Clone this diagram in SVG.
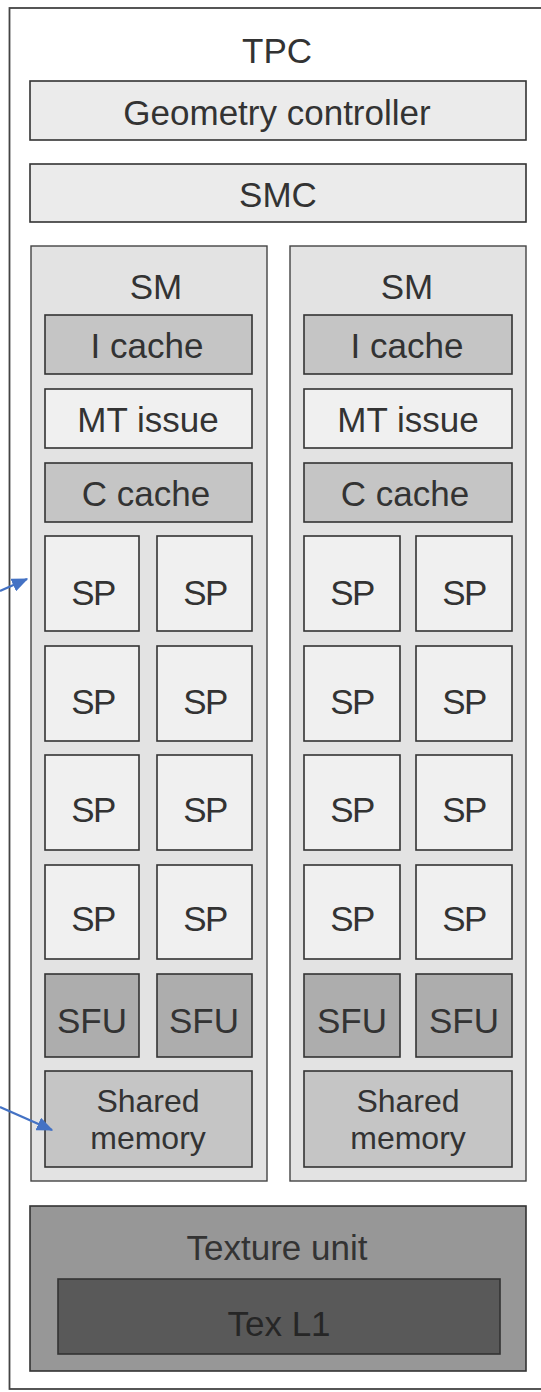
<svg xmlns="http://www.w3.org/2000/svg" width="541" height="1392" viewBox="0 0 541 1392">
<defs>
<style>
.b{stroke:#333;stroke-width:1.6}
.t{font-family:"Liberation Sans",Arial,Helvetica,sans-serif;font-size:35px;fill:#333;text-anchor:middle}
.sh{font-size:32px}
.sp{letter-spacing:-1.5px}
.lt{fill:#f0f0f0}
.mid{fill:#c5c5c5}
.sfu{fill:#adadad}
.sm{fill:#e3e3e3;stroke:#444;stroke-width:1.4}
</style>
<marker id="ah" viewBox="0 0 12 10" refX="11" refY="5" markerWidth="7.5" markerHeight="6.2" orient="auto" markerUnits="strokeWidth">
<path d="M0,0 L12,5 L0,10 z" fill="#4472c4"/>
</marker>
</defs>
<rect width="541" height="1392" fill="#fff"/>
<g id="tpc">
<rect x="9.5" y="8" width="560" height="1381" fill="#fff" stroke="#444" stroke-width="1.8"/>
<text class="t" x="277" y="63">TPC</text>
</g>
<g id="geometry-controller">
<rect class="b" x="30" y="81" width="496" height="59" fill="#ebebeb"/>
<text class="t" x="277" y="125">Geometry controller</text>
</g>
<g id="smc">
<rect class="b" x="30" y="164" width="496" height="58" fill="#ebebeb"/>
<text class="t" x="278" y="207">SMC</text>
</g>

<g id="sm-left">
<rect class="sm" x="31" y="246" width="236" height="935"/>
<text class="t" x="156" y="299">SM</text>
</g>
<g id="icache-left"><rect class="b mid" x="45" y="315" width="207" height="59"/><text class="t" x="147" y="358">I cache</text></g>
<g id="mtissue-left"><rect class="b lt" x="45" y="389" width="207" height="59"/><text class="t" x="148" y="432">MT issue</text></g>
<g id="ccache-left"><rect class="b mid" x="45" y="463" width="207" height="59"/><text class="t" x="146" y="506">C cache</text></g>
<g id="sp-l-1a"><rect class="b lt" x="45" y="536" width="94" height="95"/><text class="t sp" x="93" y="605">SP</text></g>
<g id="sp-l-1b"><rect class="b lt" x="157" y="536" width="95" height="95"/><text class="t sp" x="205" y="605">SP</text></g>
<g id="sp-l-2a"><rect class="b lt" x="45" y="646" width="94" height="95"/><text class="t sp" x="93" y="714">SP</text></g>
<g id="sp-l-2b"><rect class="b lt" x="157" y="646" width="95" height="95"/><text class="t sp" x="205" y="714">SP</text></g>
<g id="sp-l-3a"><rect class="b lt" x="45" y="755" width="94" height="95"/><text class="t sp" x="93" y="822">SP</text></g>
<g id="sp-l-3b"><rect class="b lt" x="157" y="755" width="95" height="95"/><text class="t sp" x="205" y="822">SP</text></g>
<g id="sp-l-4a"><rect class="b lt" x="45" y="865" width="94" height="94"/><text class="t sp" x="93" y="931">SP</text></g>
<g id="sp-l-4b"><rect class="b lt" x="157" y="865" width="95" height="94"/><text class="t sp" x="205" y="931">SP</text></g>
<g id="sfu-l-a"><rect class="b sfu" x="45" y="974" width="94" height="83"/><text class="t" x="92" y="1033">SFU</text></g>
<g id="sfu-l-b"><rect class="b sfu" x="157" y="974" width="95" height="83"/><text class="t" x="204" y="1033">SFU</text></g>
<g id="shmem-left"><rect class="b mid" x="45" y="1071" width="207" height="96"/><text class="t sh" x="148" y="1112">Shared</text><text class="t sh" x="148" y="1149">memory</text></g>

<g id="sm-right">
<rect class="sm" x="290" y="246" width="236" height="935"/>
<text class="t" x="407" y="299">SM</text>
</g>
<g id="icache-right"><rect class="b mid" x="304" y="315" width="208" height="59"/><text class="t" x="407" y="358">I cache</text></g>
<g id="mtissue-right"><rect class="b lt" x="304" y="389" width="208" height="59"/><text class="t" x="408" y="432">MT issue</text></g>
<g id="ccache-right"><rect class="b mid" x="304" y="463" width="208" height="59"/><text class="t" x="405" y="506">C cache</text></g>
<g id="sp-r-1a"><rect class="b lt" x="304" y="536" width="96" height="95"/><text class="t sp" x="352" y="605">SP</text></g>
<g id="sp-r-1b"><rect class="b lt" x="416" y="536" width="96" height="95"/><text class="t sp" x="464" y="605">SP</text></g>
<g id="sp-r-2a"><rect class="b lt" x="304" y="646" width="96" height="95"/><text class="t sp" x="352" y="714">SP</text></g>
<g id="sp-r-2b"><rect class="b lt" x="416" y="646" width="96" height="95"/><text class="t sp" x="464" y="714">SP</text></g>
<g id="sp-r-3a"><rect class="b lt" x="304" y="755" width="96" height="95"/><text class="t sp" x="352" y="822">SP</text></g>
<g id="sp-r-3b"><rect class="b lt" x="416" y="755" width="96" height="95"/><text class="t sp" x="464" y="822">SP</text></g>
<g id="sp-r-4a"><rect class="b lt" x="304" y="865" width="96" height="94"/><text class="t sp" x="352" y="931">SP</text></g>
<g id="sp-r-4b"><rect class="b lt" x="416" y="865" width="96" height="94"/><text class="t sp" x="464" y="931">SP</text></g>
<g id="sfu-r-a"><rect class="b sfu" x="304" y="974" width="96" height="83"/><text class="t" x="352" y="1033">SFU</text></g>
<g id="sfu-r-b"><rect class="b sfu" x="416" y="974" width="96" height="83"/><text class="t" x="464" y="1033">SFU</text></g>
<g id="shmem-right"><rect class="b mid" x="304" y="1071" width="208" height="96"/><text class="t sh" x="408" y="1112">Shared</text><text class="t sh" x="408" y="1149">memory</text></g>

<g id="texture-unit">
<rect class="b" x="30" y="1206" width="496" height="165" fill="#979797"/>
<text class="t" x="277" y="1260">Texture unit</text>
</g>
<g id="tex-l1">
<rect class="b" x="58" y="1279" width="442" height="75" fill="#595959"/>
<text class="t" x="279" y="1336" style="fill:#262626">Tex L1</text>
</g>

<g id="connectors" fill="none" stroke="#4472c4" stroke-width="2.2">
<line x1="0" y1="591" x2="27" y2="579" marker-end="url(#ah)"/>
<line x1="0" y1="1107" x2="52" y2="1130" marker-end="url(#ah)"/>
</g>
</svg>
